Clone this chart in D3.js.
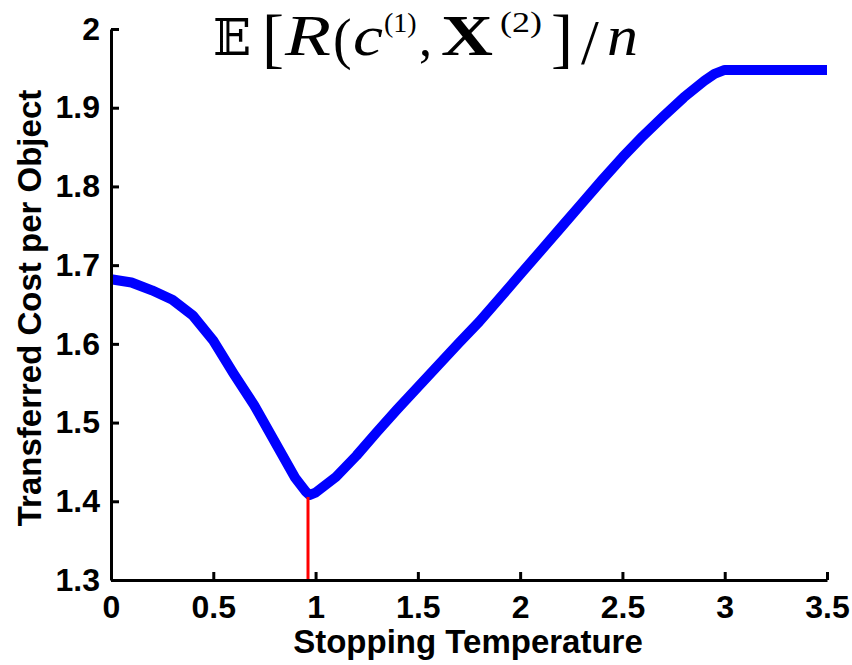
<!DOCTYPE html>
<html><head><meta charset="utf-8">
<script src="https://cdn.jsdelivr.net/npm/d3@7"></script>
<style>body{margin:0;background:#fff}</style></head>
<body><svg id="c" width="852" height="665"></svg>
<script>
// ---- data ----
const temps = [0, 0.1, 0.2, 0.3, 0.4, 0.5, 0.6, 0.7, 0.8, 0.9, 0.95, 0.97, 1.0, 1.1, 1.2, 1.3, 1.4, 1.5, 1.6, 1.7, 1.8, 1.9, 2.0, 2.1, 2.2, 2.3, 2.4, 2.5, 2.6, 2.7, 2.8, 2.9, 2.95, 3.0, 3.5];
const costs = [1.682, 1.678, 1.668, 1.656, 1.636, 1.604, 1.562, 1.522, 1.476, 1.430, 1.413, 1.408, 1.411, 1.431, 1.458, 1.488, 1.517, 1.545, 1.573, 1.601, 1.628, 1.658, 1.688, 1.718, 1.748, 1.778, 1.808, 1.837, 1.864, 1.889, 1.913, 1.934, 1.943, 1.948, 1.948];
const xTicks = [0, 0.5, 1, 1.5, 2, 2.5, 3, 3.5];
const yTicks = [1.3, 1.4, 1.5, 1.6, 1.7, 1.8, 1.9, 2];
const optimalTemp = 0.963;
const optimalCost = 1.408;
const xLabel = "Stopping Temperature";
const yLabel = "Transferred Cost per Object";

const svg = d3.select("#c");
const x = d3.scaleLinear().domain([0, 3.5]).range([111, 827]);
const y = d3.scaleLinear().domain([1.3, 2]).range([580, 29]);
const sans = "'Liberation Sans', Arial, Helvetica, sans-serif";

// curve
const pts = temps.map((t, i) => [t, costs[i]]);
svg.append("path").datum(pts)
  .attr("d", d3.line().x(d => x(d[0])).y(d => y(d[1])))
  .attr("fill", "none").attr("stroke", "#0000ff").attr("stroke-width", 10)
  .attr("stroke-linejoin", "round").attr("stroke-linecap", "butt");

// red marker
svg.append("line")
  .attr("x1", x(optimalTemp)).attr("x2", x(optimalTemp))
  .attr("y1", y(1.3)).attr("y2", y(optimalCost) + 2)
  .attr("stroke", "#ff0000").attr("stroke-width", 3);

// axes
const gx = svg.append("g").attr("transform", `translate(0,${y(1.3)})`)
  .call(d3.axisBottom(x).tickValues(xTicks).tickFormat(d3.format("~g"))
    .tickSizeInner(-8).tickSizeOuter(0).tickPadding(15));
const gy = svg.append("g").attr("transform", `translate(${x(0)},0)`)
  .call(d3.axisLeft(y).tickValues(yTicks).tickFormat(d3.format("~g"))
    .tickSizeInner(-8).tickSizeOuter(0).tickPadding(11));
[gx, gy].forEach(g => {
  g.select(".domain").attr("stroke", "#000").attr("stroke-width", 3);
  g.selectAll(".tick line").attr("stroke", "#000").attr("stroke-width", 3);
  g.selectAll(".tick text").attr("fill", "#000")
    .style("font-family", sans).style("font-weight", "bold").style("font-size", "32px");
});

// axis labels
svg.append("text").attr("x", 468).attr("y", 653).attr("text-anchor", "middle")
  .style("font-family", sans).style("font-weight", "bold").style("font-size", "33px")
  .text(xLabel);
svg.append("text").attr("transform", "translate(41,308) rotate(-90)").attr("text-anchor", "middle")
  .style("font-family", sans).style("font-weight", "bold").style("font-size", "33px")
  .text(yLabel);

// title (math) — one text element, pieces as tspans
const serif = "'Liberation Serif', 'DejaVu Serif', serif";
const title = svg.append("text").attr("fill", "#000").style("font-family", serif);
function put(txt, xx, yy, size, opts = {}) {
  const t = title.append("tspan").attr("x", xx).attr("y", yy).style("font-size", size + "px").text(txt);
  t.style("font-style", opts.italic ? "italic" : "normal");
  t.style("font-weight", opts.bold ? "bold" : "normal");
  if (opts.family) t.style("font-family", opts.family);
  if (opts.len) t.attr("textLength", opts.len).attr("lengthAdjust", "spacingAndGlyphs");
  return t;
}
put("\u{1D53C}", 213, 55, 50, {family: "'DejaVu Serif', 'DejaVu Sans', serif"});
put("[", 262, 60, 66);
put("R", 285, 55, 56, {italic: true, len: 46});
put("(", 333, 58, 56);
put("c", 353, 55, 56, {italic: true, len: 30});
put("(1)", 384, 32, 28);
put(",", 419, 55, 52);
put("X", 441, 55, 56, {bold: true, len: 52});
put("(2)", 500, 32, 30, {len: 42});
put("]", 551, 60, 66);
put("/", 581, 64, 64);
put("n", 607, 55, 56, {italic: true, len: 31});
</script></body></html>
